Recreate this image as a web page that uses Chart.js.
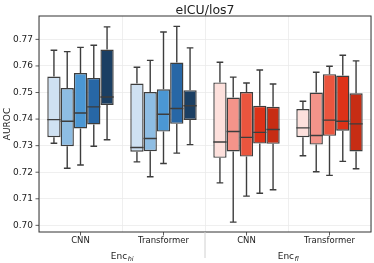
<!DOCTYPE html>
<html>
<head>
<meta charset="utf-8">
<script src="https://cdn.jsdelivr.net/npm/chart.js@4.4.1/dist/chart.umd.min.js"></script>
<style>
  html, body { margin: 0; padding: 0; background: #fff; }
  #wrap { width: 374px; height: 263px; }
</style>
</head>
<body>
<div id="wrap"><canvas id="myChart"></canvas></div>
<script>
const title = 'eICU/los7';
const categories = ['CNN', 'Transformer', 'CNN', 'Transformer'];
const groupLabels = ['hi', 'fl'];
const yTicks = [0.70, 0.71, 0.72, 0.73, 0.74, 0.75, 0.76, 0.77];

// rows = the 5 boxes in each group, columns = the 4 categories
const whiskerLow = [
  [0.7309, 0.7239, 0.7160, 0.7262],
  [0.7215, 0.7183, 0.7012, 0.7202],
  [0.7227, 0.7233, 0.7110, 0.7188],
  [0.7298, 0.7272, 0.7121, 0.7241],
  [0.7322, 0.7304, 0.7134, 0.7213],
];
const q1 = [
  [0.7332, 0.7277, 0.7254, 0.7332],
  [0.7298, 0.7279, 0.7278, 0.7304],
  [0.7365, 0.7353, 0.7259, 0.7337],
  [0.7380, 0.7382, 0.7308, 0.7356],
  [0.7453, 0.7397, 0.7307, 0.7278],
];
const median = [
  [0.7398, 0.7293, 0.7314, 0.7367],
  [0.7392, 0.7327, 0.7353, 0.7338],
  [0.7423, 0.7418, 0.7331, 0.7396],
  [0.7446, 0.7440, 0.7350, 0.7392],
  [0.7483, 0.7450, 0.7361, 0.7382],
];
const q3 = [
  [0.7560, 0.7534, 0.7538, 0.7438],
  [0.7517, 0.7502, 0.7481, 0.7500],
  [0.7573, 0.7512, 0.7502, 0.7569],
  [0.7555, 0.7613, 0.7450, 0.7564],
  [0.7662, 0.7509, 0.7446, 0.7497],
];
const whiskerHigh = [
  [0.7659, 0.7595, 0.7614, 0.7467],
  [0.7654, 0.7621, 0.7558, 0.7576],
  [0.7670, 0.7728, 0.7536, 0.7599],
  [0.7678, 0.7749, 0.7585, 0.7640],
  [0.7747, 0.7668, 0.7532, 0.7619],
];

const blues = ['#cfe1f2', '#8ebde3', '#4b97d4', '#2767a6', '#1b3f63'];
const reds = ['#fde0dc', '#f4948a', '#ea553e', '#dd3218', '#c72d14'];

const font = 'DejaVu Sans';
const edge = '#3d3d3d';

const datasets = q1.map((row, i) => ({
  label: 'box ' + (i + 1),
  data: row.map((v, j) => [v, q3[i][j]]),
  backgroundColor: [blues[i], blues[i], reds[i], reds[i]],
  borderColor: edge,
  borderWidth: 1.4,
  borderSkipped: false,
  categoryPercentage: 0.8,
  barPercentage: 1.0,
}));

// whiskers, caps and medians, placed on the bars the library laid out
const boxWhiskers = {
  id: 'boxWhiskers',
  afterDatasetsDraw(chart) {
    const ctx = chart.ctx;
    const y = chart.scales.y;
    ctx.save();
    ctx.strokeStyle = edge;
    ctx.lineWidth = 1.4;
    chart.data.datasets.forEach((ds, i) => {
      chart.getDatasetMeta(i).data.forEach((bar, j) => {
        const x = bar.x;
        const w = bar.width;
        const yLo = y.getPixelForValue(whiskerLow[i][j]);
        const yQ1 = y.getPixelForValue(q1[i][j]);
        const yMed = y.getPixelForValue(median[i][j]);
        const yQ3 = y.getPixelForValue(q3[i][j]);
        const yHi = y.getPixelForValue(whiskerHigh[i][j]);
        ctx.beginPath();
        ctx.moveTo(x, yQ3); ctx.lineTo(x, yHi);
        ctx.moveTo(x - w / 4, yHi); ctx.lineTo(x + w / 4, yHi);
        ctx.moveTo(x, yQ1); ctx.lineTo(x, yLo);
        ctx.moveTo(x - w / 4, yLo); ctx.lineTo(x + w / 4, yLo);
        ctx.moveTo(x - w / 2, yMed); ctx.lineTo(x + w / 2, yMed);
        ctx.stroke();
      });
    });
    ctx.restore();
  }
};

// title over the plot, frame, tick marks, group separator and Enc labels
const decorations = {
  id: 'decorations',
  afterDraw(chart) {
    const ctx = chart.ctx;
    const a = chart.chartArea;
    const x = chart.scales.x;
    const y = chart.scales.y;
    ctx.save();
    ctx.fillStyle = '#222';
    ctx.font = '12.5px ' + font;
    ctx.textAlign = 'center';
    ctx.textBaseline = 'alphabetic';
    ctx.fillText(title, (a.left + a.right) / 2, 13.5);

    ctx.strokeStyle = '#333';
    ctx.lineWidth = 1;
    ctx.strokeRect(a.left, a.top, a.right - a.left, a.bottom - a.top);

    ctx.lineWidth = 0.8;
    ctx.beginPath();
    categories.forEach((c, j) => {
      const px = x.getPixelForValue(j);
      ctx.moveTo(px, a.bottom); ctx.lineTo(px, a.bottom + 3.5);
    });
    yTicks.forEach(v => {
      const py = y.getPixelForValue(v);
      ctx.moveTo(a.left - 3.5, py); ctx.lineTo(a.left, py);
    });
    ctx.stroke();

    const sepX = (x.getPixelForValue(1) + x.getPixelForValue(2)) / 2;
    ctx.strokeStyle = '#d0d0d0';
    ctx.lineWidth = 1;
    ctx.beginPath();
    ctx.moveTo(sepX, a.bottom); ctx.lineTo(sepX, 258);
    ctx.stroke();

    groupLabels.forEach((sub, g) => {
      const cx = (x.getPixelForValue(g * 2) + x.getPixelForValue(g * 2 + 1)) / 2;
      ctx.font = '9px ' + font;
      const w1 = ctx.measureText('Enc').width;
      ctx.font = 'italic 6.5px ' + font;
      const w2 = ctx.measureText(sub).width;
      const x0 = cx - (w1 + w2) / 2;
      ctx.textAlign = 'left';
      ctx.font = '9px ' + font;
      ctx.fillText('Enc', x0, 258.5);
      ctx.font = 'italic 6.5px ' + font;
      ctx.fillText(sub, x0 + w1 + 0.5, 260.5);
    });
    ctx.restore();
  }
};

new Chart(document.getElementById('myChart'), {
  type: 'bar',
  data: { labels: categories, datasets: datasets },
  options: {
    responsive: true,
    maintainAspectRatio: false,
    animation: false,
    layout: { padding: { left: 0, right: 3, top: 16, bottom: 0 } },
    plugins: {
      legend: { display: false },
      tooltip: { enabled: false },
      title: { display: false },
    },
    scales: {
      x: {
        offset: true,
        grid: { display: true, offset: true, color: '#ebebeb', lineWidth: 0.8, drawTicks: false },
        border: { display: false },
        ticks: { color: '#222', padding: 4, font: { family: font, size: 8.5 }, maxRotation: 0 },
        afterFit(scale) { scale.height = 31; },
      },
      y: {
        min: 0.6975,
        max: 0.7788,
        grid: { color: '#ebebeb', lineWidth: 0.8, drawTicks: false },
        border: { display: false },
        afterBuildTicks(scale) { scale.ticks = yTicks.map(v => ({ value: v })); },
        ticks: {
          color: '#222',
          padding: 6,
          font: { family: font, size: 9 },
          callback: v => Number(v).toFixed(2),
        },
        title: {
          display: true,
          text: 'AUROC',
          color: '#222',
          font: { family: font, size: 9 },
          padding: { top: 2, bottom: 0 },
        },
        afterFit(scale) { scale.width = 39; },
      },
    },
  },
  plugins: [boxWhiskers, decorations],
});
</script>
</body>
</html>
